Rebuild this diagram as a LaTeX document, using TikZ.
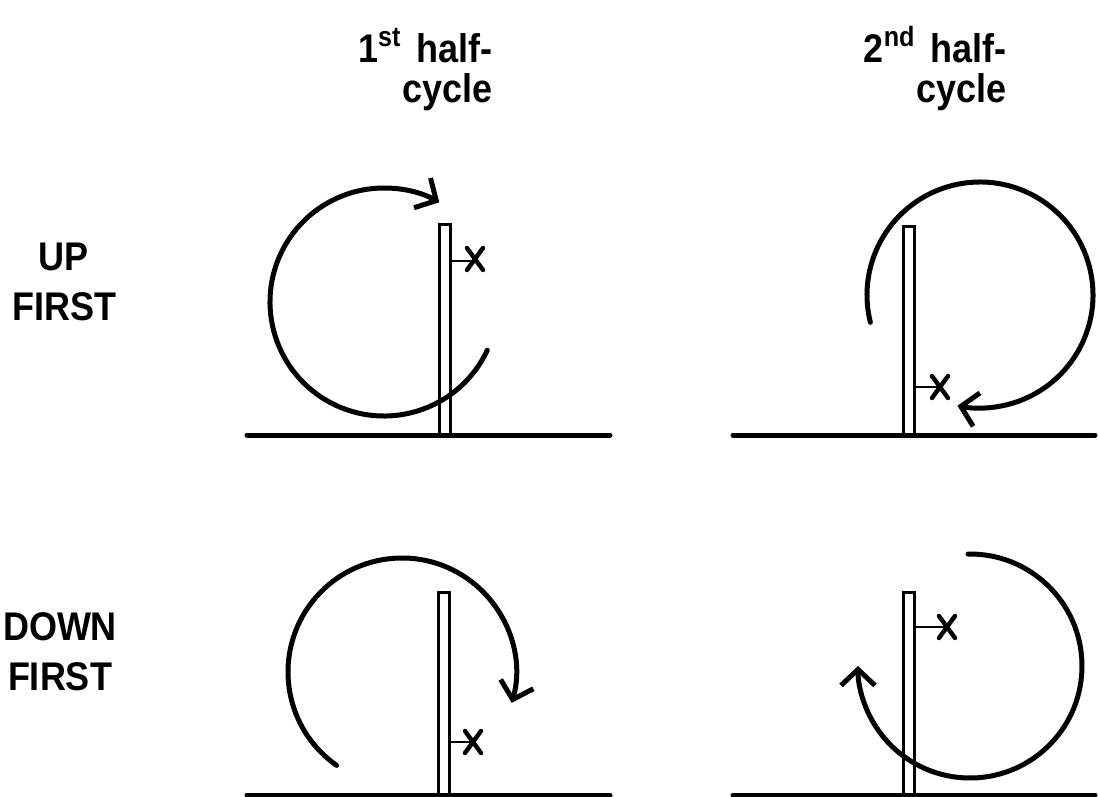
\documentclass[tikz,border=0pt]{standalone}
\usepackage{fontspec}
\setmainfont{Liberation Sans}[FakeStretch=0.9]
\usetikzlibrary{arrows.meta}
\newcommand{\ordsup}[1]{\raisebox{0.42em}{\fontsize{14}{14}\selectfont #1}}
\tikzset{
  ground/.style = {line width=2.5pt, line cap=round},
  post/.style   = {line width=1.6pt},
  loop/.style   = {line width=2.5pt, line cap=round},
  turn/.style   = {loop, -{Straight Barb[length=8pt,width=17pt,line width=2.5pt]}},
  probe/.style  = {line width=1.3pt},
  cross/.style  = {line width=2.2pt, line cap=round},
  rowtag/.style = {font=\bfseries\fontsize{20}{25}\selectfont, align=center, inner sep=0pt},
  coltag/.style = {font=\bfseries\fontsize{20}{20}\selectfont, align=right, inner sep=0pt},
}

\begin{document}
\begin{tikzpicture}[x=0.5pt, y=-0.5pt]

\useasboundingbox (0,0) rectangle (1098,797);

\node[coltag, anchor=base east] (half1) at (493,103) {1\ordsup{st}\hspace{0.4em}half-\\cycle};
\node[coltag, anchor=base east] (half2) at (1007,103) {2\ordsup{nd}\hspace{0.4em}half-\\cycle};
\node[rowtag, anchor=base] (upfirst) at (64,320) {UP\\FIRST};
\node[rowtag, anchor=base] (downfirst) at (60,690) {DOWN\\FIRST};

\coordinate (hub1) at (384,302);
\coordinate (hub2) at (980,295);
\coordinate (hub3) at (402,672);
\coordinate (hub4) at (970,666);

% up first, 1st half-cycle
\draw[post] (439.6,224.6) rectangle (450.4,435);
\draw[ground] (247,435) -- (610,435);
\draw[probe] (450.4,261) -- (475,261);
\draw[cross] (467,248) -- (483,270) (483,248) -- (467,270);
\draw[turn] ([shift={(25:114)}]hub1) arc[start angle=25, end angle=299, radius=114];

% up first, 2nd half-cycle
\draw[post] (903.6,226.6) rectangle (914.4,435);
\draw[ground] (733,435) -- (1095,435);
\draw[probe] (914.4,387) -- (940,387);
\draw[cross] (932,376) -- (948,398) (948,376) -- (932,398);
\draw[turn] ([shift={(-194:113)}]hub2) arc[start angle=-194, end angle=101.5, radius=113];

% down first, 1st half-cycle
\draw[post] (438.6,592.6) rectangle (449.4,795);
\draw[ground] (247,795) -- (610,795);
\draw[probe] (449.4,742) -- (473,742);
\draw[cross] (465,731) -- (481,753) (481,731) -- (465,753);
\draw[turn] ([shift={(-235:114)}]hub3) arc[start angle=-235, end angle=15.7, radius=114];

% down first, 2nd half-cycle
\draw[post] (903.6,592.6) rectangle (914.4,795);
\draw[ground] (733,795) -- (1095,795);
\draw[probe] (914.4,627) -- (947,627);
\draw[cross] (939,616) -- (955,638) (955,616) -- (939,638);
\draw[turn] ([shift={(-91:112)}]hub4) arc[start angle=-91, end angle=180, radius=112];

\end{tikzpicture}
\end{document}
